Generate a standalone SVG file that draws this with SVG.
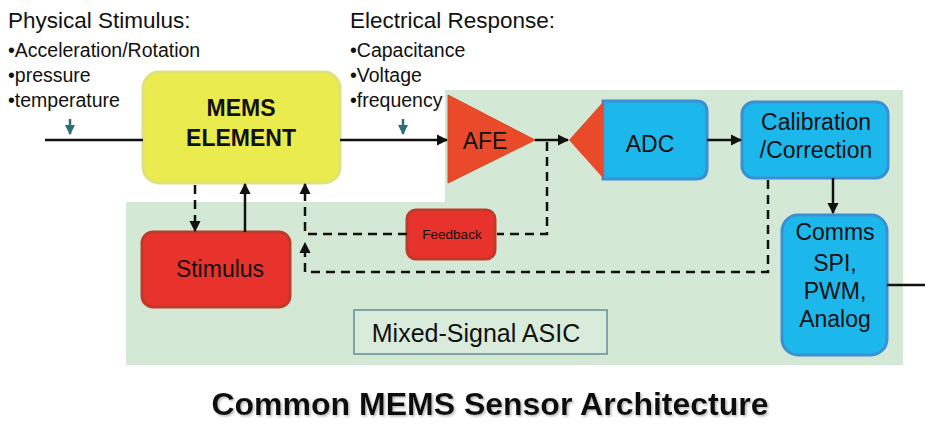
<svg xmlns="http://www.w3.org/2000/svg" width="925" height="426" viewBox="0 0 925 426">
<defs>
<style>
text{font-family:"Liberation Sans",Arial,sans-serif;fill:#111}
.lbl{font-size:19.5px}
.hdr{font-size:22.5px}
.box{font-size:23px}
.red{fill:#e8322c;stroke:#c03a2a;stroke-width:3}
.blue{fill:#1cb8ec;stroke:#3b8fd3;stroke-width:3}
.ln{stroke:#111;stroke-width:2.5;fill:none}
.dash{stroke:#111;stroke-width:2.5;fill:none;stroke-dasharray:9,6}
.teal{stroke:#2a6e78;stroke-width:2.5;fill:none}
</style>
<marker id="ah" viewBox="0 0 10 10" refX="9" refY="5" markerWidth="4.5" markerHeight="4.5" orient="auto"><path d="M0,0 L10,5 L0,10 z" fill="#111"/></marker>
<marker id="th" viewBox="0 0 10 10" refX="9" refY="5" markerWidth="4" markerHeight="4" orient="auto"><path d="M0,0 L10,5 L0,10 z" fill="#2a6e78"/></marker>
<filter id="sh" x="-5%" y="-30%" width="110%" height="160%"><feDropShadow dx="1.5" dy="1.5" stdDeviation="1" flood-color="#888" flood-opacity="0.6"/></filter>
</defs>
<rect width="925" height="426" fill="#fff"/>
<path d="M445,90 H903 V365 H126 V202 H445 Z" fill="#d4e9d5"/>

<g id="physical-stimulus">
<text x="8" y="28" class="hdr">Physical Stimulus:</text>
<text x="8" y="57" class="lbl">•Acceleration/Rotation</text>
<text x="8" y="82" class="lbl">•pressure</text>
<text x="8" y="107" class="lbl">•temperature</text>
</g>
<g id="electrical-response">
<text x="350" y="28" class="hdr">Electrical Response:</text>
<text x="350" y="57" class="lbl">•Capacitance</text>
<text x="350" y="82" class="lbl">•Voltage</text>
<text x="350" y="107" class="lbl">•frequency</text>
</g>

<g id="mems">
<rect x="143" y="72" width="197" height="111" rx="16" fill="#e9eb4e" stroke="#dfe27a" stroke-width="3"/>
<text x="241" y="116" text-anchor="middle" font-size="23" font-weight="bold">MEMS</text>
<text x="241" y="146" text-anchor="middle" font-size="23" font-weight="bold">ELEMENT</text>
</g>

<g id="afe">
<path d="M448,95 L535,140 L448,183 Z" fill="#e84a2a" stroke="#d84428" stroke-width="1"/>
<text x="485" y="149" text-anchor="middle" font-size="23">AFE</text>
</g>

<g id="adc">
<path d="M603,101 H696 Q707,101 707,112 V168 Q707,179 696,179 H603 Z" class="blue"/>
<path d="M569,140 L603,102 L603,178 Z" fill="#e84a2a"/>
<text x="650" y="152" text-anchor="middle" class="box">ADC</text>
</g>

<g id="calibration">
<rect x="742" y="102" width="146" height="76" rx="12" class="blue"/>
<text x="816" y="130" text-anchor="middle" class="box">Calibration</text>
<text x="816" y="158" text-anchor="middle" class="box">/Correction</text>
</g>

<g id="comms">
<rect x="782" y="215" width="105" height="140" rx="16" class="blue"/>
<text x="835" y="240" text-anchor="middle" class="box">Comms</text>
<text x="835" y="271" text-anchor="middle" class="box">SPI,</text>
<text x="835" y="299" text-anchor="middle" class="box">PWM,</text>
<text x="835" y="327" text-anchor="middle" class="box">Analog</text>
</g>

<g id="stimulus">
<rect x="142" y="232" width="148" height="75" rx="11" class="red"/>
<text x="220" y="277" text-anchor="middle" class="box">Stimulus</text>
</g>

<g id="feedback">
<rect x="407" y="210" width="88" height="49" rx="9" class="red"/>
<text x="452" y="239" text-anchor="middle" font-size="13.5">Feedback</text>
</g>

<g id="asic">
<rect x="354" y="310" width="253" height="44" fill="#d9ecdc" stroke="#5f8e98" stroke-width="1.5"/>
<text x="476" y="342" text-anchor="middle" font-size="25">Mixed-Signal ASIC</text>
</g>

<g id="connectors">
<line x1="45" y1="140" x2="143" y2="140" class="ln"/>
<line x1="70" y1="119" x2="70" y2="134" class="teal" marker-end="url(#th)"/>
<line x1="403" y1="119" x2="403" y2="134" class="teal" marker-end="url(#th)"/>
<line x1="340" y1="140" x2="447" y2="140" class="ln" marker-end="url(#ah)"/>
<line x1="535" y1="140" x2="568" y2="140" class="ln" marker-end="url(#ah)"/>
<line x1="707" y1="140" x2="741" y2="140" class="ln" marker-end="url(#ah)"/>
<line x1="833" y1="178" x2="833" y2="213" class="ln" marker-end="url(#ah)"/>
<line x1="887" y1="285" x2="925" y2="285" class="ln"/>
<line x1="195" y1="185" x2="195" y2="231" class="dash" marker-end="url(#ah)"/>
<line x1="245" y1="232" x2="245" y2="184" class="ln" marker-end="url(#ah)"/>
<path d="M547,142 V234 H497" class="dash"/>
<path d="M407,234 H305 V184" class="dash" marker-end="url(#ah)"/>
<path d="M768,180 V272 H305 V243" class="dash" marker-end="url(#ah)"/>
</g>

<text x="490" y="415" text-anchor="middle" font-size="32" font-weight="bold" filter="url(#sh)">Common MEMS Sensor Architecture</text>
</svg>
